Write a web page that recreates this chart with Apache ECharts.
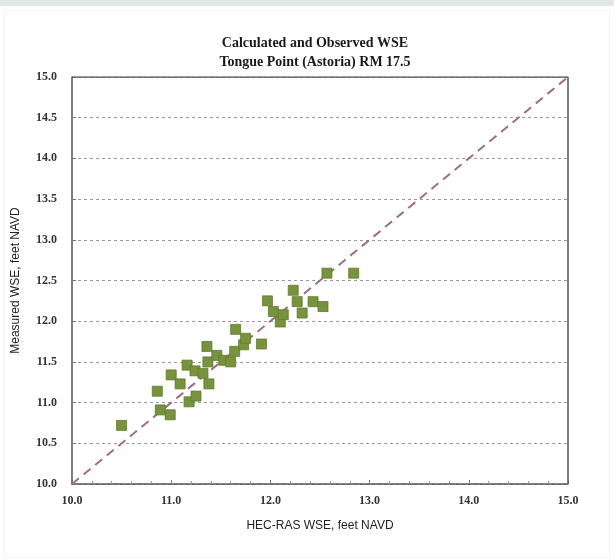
<!DOCTYPE html>
<html><head><meta charset="utf-8">
<script src="https://cdn.jsdelivr.net/npm/echarts@6/dist/echarts.min.js"></script>
<style>html,body{margin:0;padding:0;background:#fff;}#c{width:614px;height:560px;}
#band{position:absolute;left:0;top:0;width:614px;height:6px;background:#e3e7e7;}
#frame{position:absolute;left:4px;top:10px;width:604px;height:546px;border:1px solid #f3f3f3;}
</style>
</head><body>
<div id="c"></div><div id="band"></div><div id="frame"></div>
<script>
const titleLines = ['Calculated and Observed WSE', 'Tongue Point (Astoria) RM 17.5'];
const xName = 'HEC-RAS WSE, feet NAVD';
const yName = 'Measured WSE, feet NAVD';
const hecRas = [10.50, 10.86, 10.89, 10.99, 11.00, 11.09, 11.16, 11.18, 11.25, 11.24, 11.32, 11.36, 11.37, 11.38, 11.46, 11.53, 11.60, 11.64, 11.65, 11.73, 11.75, 11.91, 11.97, 12.03, 12.10, 12.13, 12.23, 12.27, 12.43, 12.53, 12.32, 12.57, 12.84];
const measured = [10.72, 11.14, 10.91, 10.85, 11.34, 11.23, 11.46, 11.01, 11.08, 11.39, 11.36, 11.69, 11.50, 11.23, 11.58, 11.52, 11.50, 11.63, 11.90, 11.71, 11.79, 11.72, 12.25, 12.12, 11.99, 12.08, 12.38, 12.24, 12.24, 12.18, 12.10, 12.59, 12.59];
const oneToOne = [[10, 10], [15, 15]];
const axisMin = 10, axisMax = 15;

const pts = hecRas.map((x, i) => [x, measured[i]]);
const chart = echarts.init(document.getElementById('c'));
const serif = 'Liberation Serif';
chart.setOption({
  animation: false,
  title: {
    text: titleLines.join('\n'), left: 310, top: 29, textAlign: 'center',
    textStyle: { fontFamily: serif, fontWeight: 'bold', fontSize: 14, lineHeight: 19, color: '#1a1a1a' }
  },
  grid: { left: 72, right: 46, top: 77, bottom: 76 },
  xAxis: {
    type: 'value', min: axisMin, max: axisMax, interval: 1,
    axisLine: { show: true, onZero: false, lineStyle: { color: '#555', width: 1.5 } },
    axisTick: { show: true, inside: true, length: 4, lineStyle: { color: '#777' } },
    minorTick: { show: true, splitNumber: 5, length: 3, lineStyle: { color: '#999' } },
    splitLine: { show: false },
    axisLabel: { margin: 11, fontFamily: serif, fontWeight: 'bold', fontSize: 12, color: '#333', formatter: v => v.toFixed(1) },
    name: xName, nameLocation: 'middle', nameGap: 36,
    nameTextStyle: { fontFamily: 'Liberation Sans', fontSize: 12, color: '#222' }
  },
  yAxis: {
    type: 'value', min: axisMin, max: axisMax, interval: 0.5,
    axisLine: { show: true, onZero: false, lineStyle: { color: '#555', width: 1.5 } },
    axisTick: { show: true, inside: true, length: 4, lineStyle: { color: '#777' } },
    splitLine: { show: true, lineStyle: { color: '#999', type: [3, 3], width: 1 } },
    axisLabel: { margin: 15, fontFamily: serif, fontWeight: 'bold', fontSize: 12, color: '#333', formatter: v => v.toFixed(1) },
    name: yName, nameLocation: 'middle', nameGap: 50,
    nameTextStyle: { fontFamily: 'Liberation Sans', fontSize: 12, color: '#222' }
  },
  series: [
    {
      type: 'line', data: oneToOne, symbol: 'none', silent: true, z: 2,
      lineStyle: { color: '#9c6f7e', width: 2, type: [9, 6] }
    },
    {
      type: 'scatter', data: pts, symbol: 'rect', symbolSize: 10, z: 3,
      itemStyle: { color: '#77933c', borderColor: '#5f7a2e', borderWidth: 0.8, opacity: 1 }
    },
    {
      type: 'line', data: [[axisMin, axisMax], [axisMax, axisMax], [axisMax, axisMin]], symbol: 'none', silent: true, z: 1,
      lineStyle: { color: '#555', width: 1.5 }
    }
  ]
});
</script>
</body></html>
